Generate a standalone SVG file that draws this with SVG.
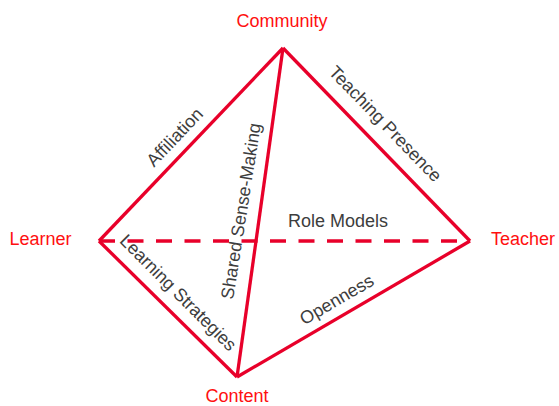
<svg xmlns="http://www.w3.org/2000/svg" width="559" height="406" viewBox="0 0 559 406">
<style>
.edge{stroke:#e8002a;stroke-width:3.3;fill:none;stroke-linejoin:miter;stroke-linecap:butt}
.dash{stroke:#e8002a;stroke-width:3.6;fill:none;stroke-dasharray:16 12.5}
.node{font-family:"Liberation Sans",Arial,sans-serif;font-size:18px;fill:#ff1010;text-anchor:middle}
.lbl{font-family:"Liberation Sans",Arial,sans-serif;font-size:18px;fill:#3d3d3d;text-anchor:middle}
</style>
<rect width="559" height="406" fill="#ffffff"/>
<g id="connectors">
<line class="dash" x1="99" y1="241" x2="470" y2="241"/>
<line class="edge" x1="99" y1="241" x2="283" y2="48"/>
<line class="edge" x1="283" y1="48" x2="470" y2="241"/>
<line class="edge" x1="283" y1="48" x2="237" y2="377"/>
<line class="edge" x1="99" y1="241" x2="237" y2="377"/>
<line class="edge" x1="237" y1="377" x2="470" y2="241"/>
<text class="lbl" transform="translate(179,141.4) rotate(-46.4)">Affiliation</text>
<text class="lbl" transform="translate(381,128) rotate(46)">Teaching Presence</text>
<text class="lbl" transform="translate(247,212) rotate(-81)">Shared Sense-Making</text>
<text class="lbl" x="338" y="226.7">Role Models</text>
<text class="lbl" transform="translate(174,297) rotate(45)">Learning Strategies</text>
<text class="lbl" transform="translate(339.8,304.8) rotate(-30.3)">Openness</text>
</g>
<g id="community"><text class="node" x="282" y="26.7">Community</text></g>
<g id="learner"><text class="node" x="40.5" y="245">Learner</text></g>
<g id="teacher"><text class="node" x="523" y="245">Teacher</text></g>
<g id="content"><text class="node" x="237" y="401.7">Content</text></g>
</svg>
